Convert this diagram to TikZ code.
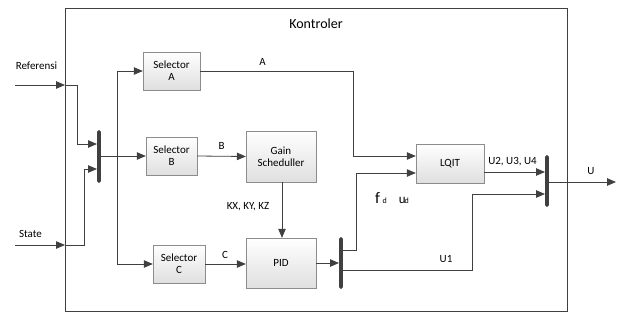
\documentclass[tikz,border=0pt]{standalone}
\usepackage{fontspec}
\setmainfont{Carlito}
\usepackage{tikz}
\usetikzlibrary{arrows.meta}

\definecolor{linegray}{HTML}{404040}
\definecolor{boxgray}{HTML}{8C8C8C}

\tikzset{
  block/.style={draw=boxgray, top color=white, bottom color=gray!25,
    align=center, inner sep=0pt},
  muxbar/.style={fill=linegray, rounded corners=1.6pt, minimum width=3.6pt,
    inner sep=0pt},
  conn/.style={draw=linegray, line width=0.8pt,
    -{Triangle[length=9pt,width=7.5pt]}},
  lbl/.style={inner sep=0pt, text=black}
}

\begin{document}
\begin{tikzpicture}[x=1pt, y=-1pt, font=\fontsize{11}{12}\selectfont]
\useasboundingbox (0,0) rectangle (620,321);
% outer frame
\draw[draw=linegray, line width=0.6pt] (65,8) rectangle (567,311);
\node[lbl, font=\fontsize{14}{16}\selectfont] (title) at (316,24) {Kontroler};

% blocks
\node[block, minimum width=57pt, minimum height=38pt] (selA) at (171.5,71) {Selector\\A};
\node[block, minimum width=51pt, minimum height=38pt] (selB) at (171.5,156) {Selector\\B};
\node[block, minimum width=52pt, minimum height=38pt] (selC) at (179,264) {Selector\\C};
\node[block, minimum width=70pt, minimum height=51pt] (gain) at (281,156.5) {Gain\\Scheduller};
\node[block, minimum width=70pt, minimum height=50pt] (pid) at (281,263) {PID};
\node[block, minimum width=68pt, minimum height=39pt] (lqit) at (450,163.5) {LQIT};

% bars
\node[muxbar, minimum height=53pt] (mux1) at (99,156.5) {};
\node[muxbar, minimum height=52pt] (mux2) at (341,263) {};
\node[muxbar, minimum height=52pt] (mux3) at (547,181) {};

% inputs
\coordinate (ref) at (15,85);
\coordinate (refin) at (65,85);
\coordinate (st) at (15,245);
\coordinate (stin) at (65,245);
\draw[conn] (ref) -- (refin);
\draw[conn] (st) -- (stin);
\draw[conn] (refin) -- (77,85) -- (77,144) -- (mux1.west |- 0,144);
\draw[conn] (stin) -- (84,245) -- (84,169) -- (mux1.west |- 0,169);
\node[lbl] (reflbl) at (36.5,66) {Referensi};
\node[lbl] (stlbl) at (30.5,234) {State};

% distribution to selectors
\coordinate (split) at (117,156);
\draw[conn] (mux1.east |- split) -- (selB.west);
\draw[conn] (split) |- (selA.west);
\draw[conn] (split) |- (selC.west);

% selectors onward
\draw[conn] (selB.east) -- (gain.west);
\draw[conn] (selC.east |- 0,264) -- (pid.west |- 0,264);
\draw[conn] (gain.south -| 282,0) -- (pid.north -| 282,0);
\draw[conn] (selA.east) -- (353,71) -- (353,156) -- (lqit.west |- 0,156);
\node[lbl] (alb) at (262.5,61.5) {A};
\node[lbl] (blb) at (221.5,145.5) {B};
\node[lbl] (clb) at (225,254.5) {C};
\node[lbl] (klb) at (248,206.5) {KX, KY, KZ};

% PID output split
\draw[conn] (pid.east) -- (mux2.west);
\draw[conn] (mux2.east |- 0,250) -- (356,250) -- (356,173) -- (lqit.west |- 0,173);
\draw[conn] (mux2.east |- 0,270) -- (472,270) -- (472,194) -- (mux3.west |- 0,194);
\node[lbl] (fdlb) at (392,198) {\fontsize{16}{17}\selectfont f\,\fontsize{8}{9}\selectfont d\hspace{12pt}\fontsize{13}{14}\selectfont u\hspace{-1pt}\fontsize{8}{9}\selectfont d};
\node[lbl] (u1lb) at (446,259) {U1};

% LQIT output and final
\draw[conn] (lqit.east |- 0,172) -- (mux3.west |- 0,172);
\node[lbl] (ulb234) at (512.5,161.5) {U2, U3, U4};
\coordinate (uout) at (616,182);
\draw[conn] (mux3.east |- uout) -- (uout);
\node[lbl] (ulb) at (591,171.5) {U};
\end{tikzpicture}
\end{document}
